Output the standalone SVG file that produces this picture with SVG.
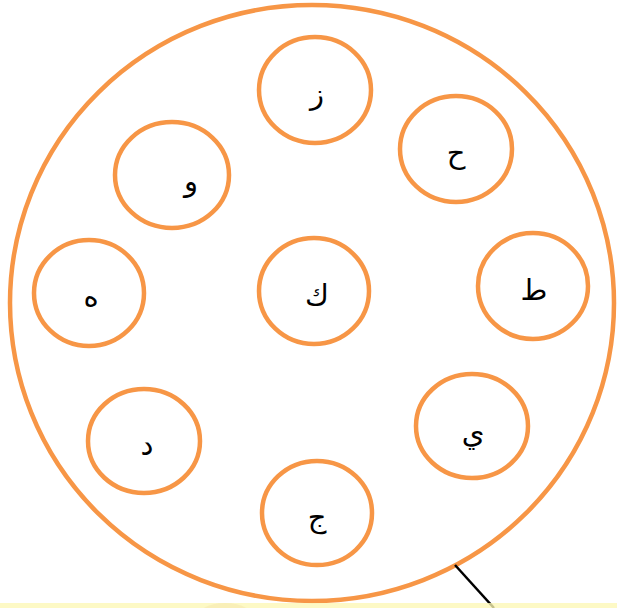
<svg xmlns="http://www.w3.org/2000/svg" width="617" height="608" viewBox="0 0 617 608">
<style>
.c{fill:none;stroke:#F79646;stroke-width:4.5}
.t{font-family:"DejaVu Sans",sans-serif;font-size:29px;fill:#000;text-anchor:middle}
</style>
<rect width="617" height="608" fill="#fff"/>
<g id="outer"><ellipse class="c" cx="312" cy="303" rx="302" ry="298"/></g>
<g id="n-zay"><ellipse class="c" cx="315" cy="90" rx="56" ry="53"/><text class="t" x="317" y="104">ز</text></g>
<g id="n-ha"><ellipse class="c" cx="456" cy="149" rx="56" ry="53"/><text class="t" x="456" y="163">ح</text></g>
<g id="n-waw"><ellipse class="c" cx="172" cy="175" rx="57" ry="53"/><text class="t" x="191" y="191">و</text></g>
<g id="n-heh"><ellipse class="c" cx="89" cy="293" rx="55" ry="53"/><text class="t" x="91" y="306">ه</text></g>
<g id="n-kaf"><ellipse class="c" cx="314" cy="291" rx="55" ry="53"/><text class="t" x="317" y="305">ك</text></g>
<g id="n-tah"><ellipse class="c" cx="533" cy="286" rx="55" ry="53"/><text class="t" x="534" y="300">ط</text></g>
<g id="n-dal"><ellipse class="c" cx="144" cy="441" rx="56" ry="52"/><text class="t" x="147" y="455">د</text></g>
<g id="n-yeh"><ellipse class="c" cx="472" cy="426" rx="56" ry="52"/><text class="t" x="473" y="443">ي</text></g>
<g id="n-jeem"><ellipse class="c" cx="317" cy="513" rx="55" ry="52"/><text class="t" x="317" y="527">ج</text></g>
<g id="connectors"><line x1="455" y1="565" x2="494" y2="608" stroke="#000" stroke-width="2.5"/></g>
<g id="band">
<rect x="0" y="603" width="617" height="5" fill="#FCF7B5" fill-opacity="0.78"/>
<ellipse cx="225" cy="620" rx="30" ry="17" fill="#F2DDA0" fill-opacity="0.35"/>
</g>
</svg>
